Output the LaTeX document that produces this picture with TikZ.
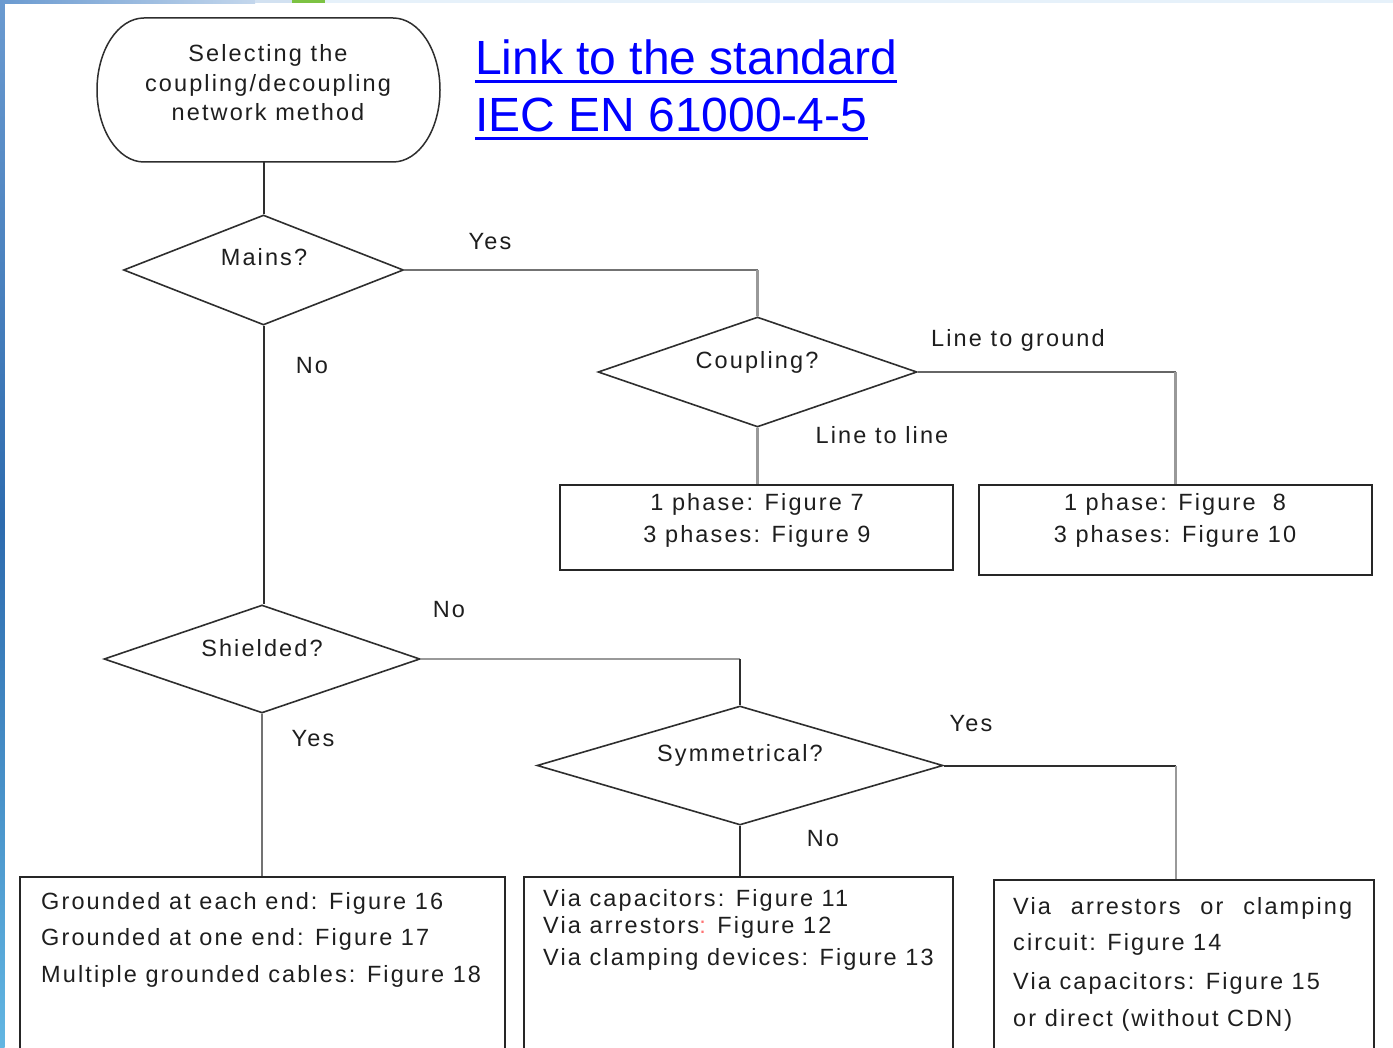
\documentclass[tikz,border=0pt]{standalone}
\usepackage{fontspec}
\setmainfont{Liberation Sans}
\newfontfamily\dfont[LetterSpace=9]{Liberation Sans}
\usetikzlibrary{shapes.geometric}
\definecolor{txt}{HTML}{1E1E1E}
\definecolor{linkblue}{HTML}{0000FF}
\definecolor{cdark}{HTML}{2E2E2E}
\definecolor{clight}{HTML}{999999}
\definecolor{stripA}{HTML}{6A9AD0}
\definecolor{stripB}{HTML}{2D6BAE}
\definecolor{stripC}{HTML}{62B6E2}
\definecolor{topgreen}{HTML}{7CC242}
\definecolor{toplight}{HTML}{E6F1FA}
\begin{document}
\begin{tikzpicture}[x=1pt,y=-1pt,
  lbl/.style={font=\dfont\fontsize{23.5}{28}\selectfont, text=txt, inner sep=0pt, anchor=base},
  lblw/.style={lbl, anchor=base west},
  dec/.style={diamond, draw=cdark, line width=1.6pt, inner sep=0pt},
  box/.style={rectangle, draw=black!85, line width=2pt, inner sep=0pt},
  cdk/.style={draw=cdark, line width=2pt},
  clt/.style={draw=clight, line width=2.2pt},
  term/.style={draw=cdark, line width=1.5pt},
]
\clip (0,0) rectangle (1393,1048);
\fill[white] (0,0) rectangle (1393,1048);
% window edges
\shade[top color=stripA, bottom color=stripC, middle color=stripB] (0,0) rectangle (4.5,1048);
\fill[toplight] (0,0) rectangle (1393,3.5);
\shade[left color=stripA, right color=stripA!40] (0,0) rectangle (255,3.5);
\fill[stripA!30] (255,0) rectangle (292,3.5);
\fill[topgreen] (292,0) rectangle (325,3.5);

% start terminal
\node[minimum width=343pt, minimum height=144pt, inner sep=0pt] (start) at (268.5,90) {};
\draw[term] (144,18) -- (393,18) arc[start angle=90, end angle=-90, x radius=47pt, y radius=72pt]
  -- (144,162) arc[start angle=270, end angle=90, x radius=47pt, y radius=72pt] -- cycle;
\node[lbl] (s1) at (268,62) {Selecting the};
\node[lbl] (s2) at (268,92) {coupling/decoupling};
\node[lbl] (s3) at (268,121) {network method};

% link
\node[anchor=base west, inner sep=0pt, text=linkblue, font=\fontsize{48}{57}\selectfont] (link1) at (475,74.5) {Link to the standard};
\node[anchor=base west, inner sep=0pt, text=linkblue, font=\fontsize{48}{57}\selectfont] (link2) at (475,131.5) {IEC EN 61000-4-5};
\fill[linkblue] ([yshift=-5.7pt]link1.base west) rectangle ([yshift=-9pt]link1.base east);
\fill[linkblue] ([yshift=-5.3pt]link2.base west) rectangle ([yshift=-8.6pt]link2.base east);

% decisions
\node[dec, minimum width=280pt, minimum height=110pt] (mains) at (263.5,270) {};
\node[dec, minimum width=319pt, minimum height=110pt] (coupling) at (757.5,372) {};
\node[dec, minimum width=316pt, minimum height=108pt] (shielded) at (262,659) {};
\node[dec, minimum width=406pt, minimum height=119pt] (symm) at (740,765.5) {};
\node[lbl] (tmains) at (264,266) {Mains?};
\node[lbl] (tcoup) at (757,369) {Coupling?};
\node[lbl] (tshield) at (262,656) {Shielded?};
\node[lbl] (tsymm) at (740,761) {Symmetrical?};

% boxes
\node[box, minimum width=393pt, minimum height=85pt] (b1) at (756.5,527.5) {};
\node[box, minimum width=393pt, minimum height=90pt] (b2) at (1175.5,530) {};
\node[box, minimum width=485pt, minimum height=193pt] (bL) at (262.5,973.5) {};
\node[box, minimum width=429pt, minimum height=193pt] (bM) at (738.5,973.5) {};
\node[box, minimum width=380pt, minimum height=190pt] (bR) at (1184,975) {};

\node[lbl] (b1a) at (757,511) {1 phase: Figure 7};
\node[lbl] (b1b) at (757,543) {3 phases: Figure 9};
\node[lbl] (b2a) at (1175,511) {1 phase: Figure~~8};
\node[lbl] (b2b) at (1175,543) {3 phases: Figure 10};

\node[lblw] (bLa) at (41,909) {Grounded at each end: Figure 16};
\node[lblw] (bLb) at (41,945) {Grounded at one end: Figure 17};
\node[lblw] (bLc) at (41,982) {Multiple grounded cables: Figure 18};

\node[lblw] (bMa) at (543,906) {Via capacitors: Figure 11};
\node[lblw] (bMb) at (543,933) {Via arrestors{\color{red!55}:} Figure 12};
\node[lblw] (bMc) at (543,965) {Via clamping devices: Figure 13};

\node[lblw] (bRa) at (1013,914) {\makebox[339pt][l]{Via\hfill arrestors\hfill or\hfill clamping}};
\node[lblw] (bRb) at (1013,950) {circuit: Figure 14};
\node[lblw] (bRc) at (1013,989) {Via capacitors: Figure 15};
\node[lblw] (bRd) at (1013,1026) {or direct (without CDN)};

% connector labels
\node[lbl] (yes1) at (490,250) {Yes};
\node[lbl] (no1) at (312,374) {No};
\node[lbl] (ltg) at (1018,347) {Line to ground};
\node[lbl] (ltl) at (882,444) {Line to line};
\node[lbl] (no2) at (449,617) {No};
\node[lbl] (yes2) at (313,746) {Yes};
\node[lbl] (yes3) at (971,731) {Yes};
\node[lbl] (no3) at (823,846) {No};

% connectors
\coordinate (j0) at (mains.north |- start.south);
\draw[cdk] (j0) -- (mains.north);
\coordinate (j1) at (mains.east -| coupling.north);
\draw[draw=black!55, line width=2pt] (mains.east) -- (j1);
\draw[clt] (j1) -- (coupling.north);
\coordinate (j2) at (coupling.east -| b2.north);
\draw[draw=black!60, line width=2pt] (coupling.east) -- (j2);
\draw[clt] (j2) -- (b2.north);
\draw[clt] (coupling.south) -- (coupling.south |- b1.north);
\draw[cdk] (mains.south) -- (mains.south |- shielded.north);
\coordinate (j3) at (shielded.east -| symm.north);
\draw[clt] (shielded.east) -- (j3);
\draw[cdk] (j3) -- (symm.north);
\coordinate (j4) at (1176,765.5);
\draw[cdk] (symm.east) -- (j4);
\draw[clt] (j4) -- (j4 |- bR.north);
\draw[cdk] (symm.south) -- (symm.south |- bM.north);
\draw[draw=black!55, line width=2pt] (shielded.south) -- (shielded.south |- bL.north);
\end{tikzpicture}
\end{document}
